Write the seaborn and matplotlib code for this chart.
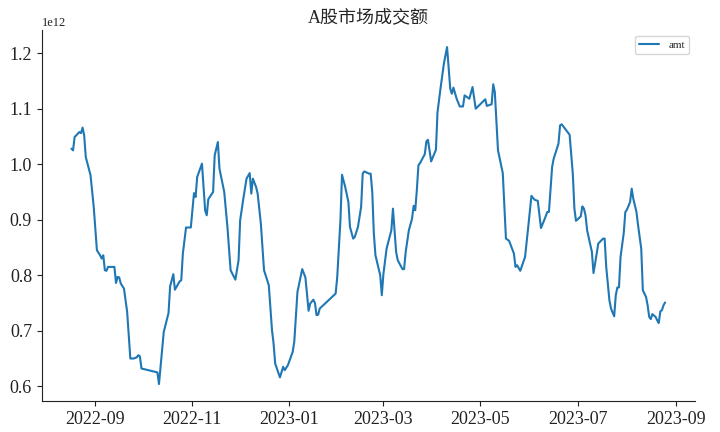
import numpy as np
import pandas as pd
import matplotlib
matplotlib.use("Agg")
import matplotlib.pyplot as plt
import matplotlib.dates as mdates
import seaborn as sns

# Days since 2022-09-01 for each read vertex
base_date = "2022-09-01"
day_offset = [
    -15, -14, -13, -11, -10, -9, -8, -7, -6, -3, -1, 1, 3, 4, 5, 6, 7, 8, 12, 13,
    14, 15, 16, 18, 20, 22, 24, 26, 27, 28, 29, 39, 40, 41, 43, 46, 47, 49, 50, 53,
    54, 55, 57, 60, 62, 63, 64, 67, 69, 70, 71, 74, 75, 77, 78, 81, 83, 85, 88, 90,
    91, 93, 95, 97, 98, 99, 101, 102, 104, 105, 106, 109, 111, 112, 113, 116, 118, 119, 121, 124,
    125, 127, 130, 132, 134, 135, 137, 138, 139, 140, 141, 151, 152, 154, 155, 157, 159, 160, 162, 163,
    165, 167, 168, 169, 172, 173, 174, 175, 176, 179, 180, 181, 183, 186, 187, 189, 190, 193, 194, 195,
    197, 199, 200, 201, 202, 203, 204, 207, 208, 209, 211, 214, 215, 217, 219, 221, 223, 224, 225, 227,
    229, 231, 232, 235, 237, 239, 245, 246, 249, 250, 251, 253, 256, 258, 260, 263, 264, 265, 267, 270,
    272, 274, 276, 278, 280, 282, 284, 285, 287, 288, 291, 292, 293, 298, 300, 301, 302, 305, 306, 307,
    308, 309, 312, 313, 314, 316, 319, 320, 321, 323, 324, 326, 327, 328, 329, 330, 332, 333, 334, 336,
    337, 338, 340, 341, 343, 344, 346, 347, 348, 349, 350, 352, 353, 354, 355, 356, 357, 358,
]
# Turnover in units of 1e12 yuan
amt_trillion = [
    1.028, 1.025, 1.049, 1.055, 1.058, 1.056, 1.066, 1.052, 1.013, 0.980, 0.923, 0.845, 0.836, 0.830, 0.836, 0.809, 0.808, 0.815, 0.815, 0.786,
    0.797, 0.796, 0.785, 0.776, 0.734, 0.650, 0.650, 0.652, 0.656, 0.654, 0.632, 0.625, 0.604, 0.635, 0.698, 0.732, 0.780, 0.802, 0.774, 0.789,
    0.791, 0.839, 0.886, 0.886, 0.948, 0.941, 0.977, 1.001, 0.917, 0.908, 0.937, 0.950, 1.016, 1.040, 0.992, 0.950, 0.887, 0.809, 0.792, 0.827,
    0.899, 0.938, 0.974, 0.984, 0.947, 0.974, 0.959, 0.947, 0.893, 0.851, 0.809, 0.782, 0.701, 0.677, 0.641, 0.616, 0.635, 0.629, 0.638, 0.662,
    0.680, 0.770, 0.811, 0.796, 0.736, 0.749, 0.756, 0.750, 0.728, 0.729, 0.740, 0.767, 0.797, 0.899, 0.981, 0.959, 0.932, 0.887, 0.866, 0.869,
    0.887, 0.923, 0.983, 0.987, 0.983, 0.983, 0.950, 0.875, 0.836, 0.800, 0.764, 0.802, 0.848, 0.881, 0.920, 0.842, 0.827, 0.811, 0.811, 0.842,
    0.881, 0.902, 0.925, 0.917, 0.953, 0.998, 1.002, 1.018, 1.041, 1.044, 1.005, 1.026, 1.094, 1.139, 1.181, 1.211, 1.136, 1.127, 1.138, 1.118,
    1.104, 1.104, 1.124, 1.118, 1.139, 1.100, 1.117, 1.105, 1.108, 1.144, 1.130, 1.025, 0.984, 0.866, 0.862, 0.839, 0.815, 0.818, 0.808, 0.833,
    0.887, 0.943, 0.936, 0.934, 0.885, 0.899, 0.914, 0.914, 0.995, 1.010, 1.037, 1.070, 1.072, 1.053, 0.983, 0.920, 0.898, 0.906, 0.924, 0.920,
    0.908, 0.881, 0.842, 0.804, 0.821, 0.857, 0.866, 0.866, 0.815, 0.755, 0.740, 0.726, 0.764, 0.778, 0.778, 0.833, 0.876, 0.914, 0.918, 0.932,
    0.956, 0.938, 0.914, 0.890, 0.848, 0.773, 0.761, 0.746, 0.725, 0.721, 0.730, 0.725, 0.719, 0.714, 0.735, 0.737, 0.746, 0.751,
]
title_text = "A股市场成交额"
series_name = "amt"

df = pd.DataFrame({
    "date": pd.to_datetime(base_date) + pd.to_timedelta(day_offset, unit="D"),
    series_name: np.array(amt_trillion) * 1e12,
})

sns.set_style("ticks")
plt.rcParams["font.family"] = ["Liberation Serif", "Noto Sans CJK SC", "DejaVu Sans"]

fig = plt.figure(figsize=(7.2, 4.32), dpi=100)
ax = fig.add_axes([0.058, 0.072, 0.907, 0.858])
sns.lineplot(data=df, x="date", y=series_name, ax=ax, color="#1f77b4",
             linewidth=1.5, label=series_name)

ax.xaxis.set_major_locator(mdates.MonthLocator(bymonth=[1, 3, 5, 7, 9, 11]))
ax.xaxis.set_major_formatter(mdates.DateFormatter("%Y-%m"))
ax.set_xlabel("")
ax.set_ylabel("")
ax.tick_params(axis="both", labelsize=13, colors="#222222")
ax.yaxis.get_offset_text().set_fontsize(9)
ax.set_title(title_text, fontsize=13)
sns.despine(ax=ax)
for s in ["left", "bottom"]:
    ax.spines[s].set_color("#222222")
ax.legend(loc="upper right", fontsize=8, frameon=True, handlelength=1.8)

fig.savefig("out.png", dpi=100)
